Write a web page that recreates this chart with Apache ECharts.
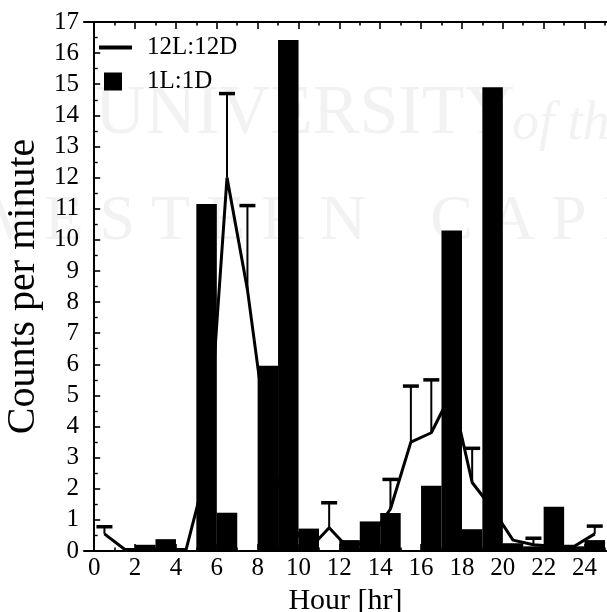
<!DOCTYPE html>
<html><head><meta charset="utf-8">
<script src="https://cdn.jsdelivr.net/npm/echarts@6/dist/echarts.min.js"></script>
<style>html,body{margin:0;padding:0;background:#fff}#c{width:607px;height:612px}</style>
</head><body><div id="c"></div>
<script>
// Hour bins (0..24); marks drawn at bin centres (hour + 0.5)
const hours = [0,1,2,3,4,5,6,7,8,9,10,11,12,13,14,15,16,17,18,19,20,21,22,23,24];
// 1L:1D bars (counts per minute)
const bars1L1D = [null,null,0.2,0.38,null,11.15,1.23,null,5.95,16.42,0.72,null,0.35,0.95,1.22,null,2.1,10.3,0.7,14.9,0.25,0.15,1.42,0.15,0.35];
// 12L:12D line (counts per minute)
const line12L12D = [0.55,0.05,0.05,0.05,0.05,2.6,12.0,8.4,3.5,1.0,0.05,0.75,0.05,0.4,1.35,3.5,3.8,5.1,2.2,1.35,0.35,0.2,0.15,0.15,0.55];
// upper error-bar tops for 12L:12D (null = not shown)
const errTop12L12D = [0.78,null,null,null,null,null,14.7,11.1,null,null,null,1.55,null,null,2.3,5.3,5.5,null,3.3,null,null,0.41,null,null,0.8];
// tick labels
const xMajorTicks = [0,2,4,6,8,10,12,14,16,18,20,22,24];
const xMinorTicks = [1,3,5,7,9,11,13,15,17,19,21,23,25];

const FONT = 'Liberation Serif';
const chart = echarts.init(document.getElementById('c'), null, {renderer:'canvas'});

const barData = [];
const lineData = [];
const errData = [];
hours.forEach((h, i) => {
  const xc = h + 0.5;
  if (bars1L1D[i] != null) barData.push([xc, bars1L1D[i]]);
  lineData.push([xc, line12L12D[i]]);
  if (errTop12L12D[i] != null) errData.push([xc, line12L12D[i], errTop12L12D[i]]);
});

const axLine = {show:true, lineStyle:{color:'#000', width:2}};
function xAx(pos, ticks, len, showLine, labels, extra) {
  return Object.assign({
    type:'value', position:pos, min:-0.5, max:25.1,
    axisLine: showLine ? axLine : {show:false},
    axisTick:{show:true, inside:true, length:len, customValues:ticks, lineStyle:{color:'#000', width:1.6}},
    axisLabel: labels ? {show:true, customValues:ticks, fontFamily:FONT, fontSize:25, color:'#000', margin:5} : {show:false},
    splitLine:{show:false}
  }, extra || {});
}
const WM = '#f2f2f2';

chart.setOption({
  animation:false,
  backgroundColor:'#fff',
  grid:{left:84, right:0, top:22, bottom:61, containLabel:false, outerBoundsMode:'none'},
  graphic:[
    {type:'text', z:-5, left:95, top:80, silent:true,
     style:{text:'UNIVERSITY', font:'70px "Liberation Serif"', fill:WM}},
    {type:'text', z:-5, left:512, top:98, silent:true,
     style:{text:'of the', font:'italic 54px "Liberation Serif"', fill:WM}},
    {type:'text', z:-5, left:-32, top:190, silent:true,
     style:{text:'W E S T E R N    C A P E', font:'64px "Liberation Serif"', fill:WM}}
  ],
  legend:[
    {data:[{name:'12L:12D', icon:'rect'}], left:99, top:35, padding:0, itemWidth:33, itemHeight:4, orient:'vertical',
     textStyle:{fontFamily:FONT, fontSize:25, color:'#000', padding:[0,0,0,10]}},
    {data:['1L:1D'], left:104, top:69, padding:0, itemWidth:18, itemHeight:18, icon:'rect', orient:'vertical',
     textStyle:{fontFamily:FONT, fontSize:25, color:'#000', padding:[0,0,0,20]}}
  ],
  xAxis:[
    xAx('bottom', xMajorTicks, 7, true, true, {name:'Hour [hr]', nameLocation:'middle', nameGap:30,
      nameTextStyle:{fontFamily:FONT, fontSize:30, color:'#000'}}),
    xAx('bottom', xMinorTicks, 3.5, false, false),
    xAx('top', xMajorTicks, 7, true, false),
    xAx('top', xMinorTicks, 3.5, false, false)
  ],
  yAxis:{
    type:'value', min:0, max:17, interval:1,
    axisLine:axLine,
    axisTick:{show:true, inside:true, length:6, lineStyle:{color:'#000', width:1.6}},
    minorTick:{show:true, splitNumber:2, length:3.5, lineStyle:{color:'#000', width:1.4}},
    axisLabel:{fontFamily:FONT, fontSize:25, color:'#000', margin:5},
    splitLine:{show:false},
    name:'Counts per minute', nameLocation:'middle', nameGap:40,
    nameTextStyle:{fontFamily:FONT, fontSize:40, color:'#000'}
  },
  series:[
    {name:'12L:12D', type:'line', data:lineData, symbol:'none', z:2,
     lineStyle:{color:'#000', width:3}, itemStyle:{color:'#000'}},
    {name:'err', type:'custom', data:errData, z:2,
     renderItem:function(params, api){
       const p0 = api.coord([api.value(0), api.value(1)]);
       const p1 = api.coord([api.value(0), api.value(2)]);
       return {type:'group', children:[
         {type:'line', shape:{x1:p0[0], y1:p0[1], x2:p1[0], y2:p1[1]}, style:{stroke:'#000', lineWidth:2}},
         {type:'line', shape:{x1:p1[0]-8, y1:p1[1], x2:p1[0]+8, y2:p1[1]}, style:{stroke:'#000', lineWidth:3.5}}
       ]};
     }},
    {name:'1L:1D', type:'bar', data:barData, barWidth:20.5, z:3,
     itemStyle:{color:'#000'}}
  ]
});
</script>
</body></html>
